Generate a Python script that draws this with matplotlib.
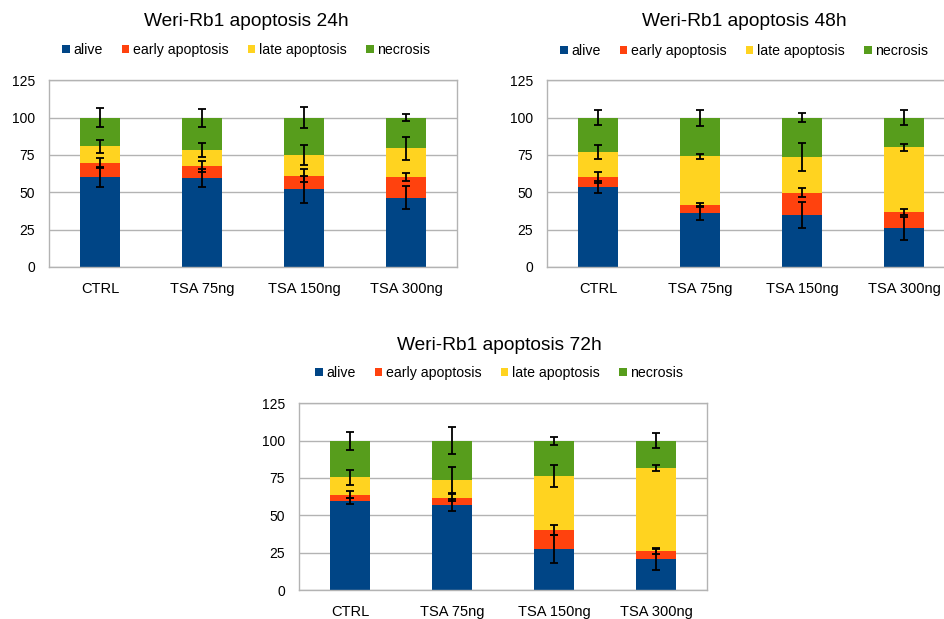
import numpy as np
import matplotlib
matplotlib.use("Agg")
import matplotlib.pyplot as plt
from matplotlib.patches import Patch

plt.rcParams['font.family'] = ['Liberation Sans', 'DejaVu Sans']

groups = ['CTRL', 'TSA 75ng', 'TSA 150ng', 'TSA 300ng']
series = ['alive', 'early apoptosis', 'late apoptosis', 'necrosis']
colors = ['#004586', '#ff420e', '#ffd320', '#579d1c']

# percentages per group (alive, early, late, necrosis) and SD of each
alive_24 = [60.3, 59.4, 52.0, 46.4]
early_24 = [9.3, 8.0, 9.2, 13.9]
late_24 = [11.2, 10.9, 13.8, 19.2]
necro_24 = [19.2, 21.7, 25.0, 20.5]
err_alive_24 = [6.5, 6.0, 9.2, 7.5]
err_early_24 = [3.6, 3.7, 4.5, 2.6]
err_late_24 = [4.5, 4.4, 7.0, 7.7]
err_necro_24 = [6.5, 6.0, 7.0, 2.4]

alive_48 = [53.6, 36.2, 34.8, 25.9]
early_48 = [6.4, 5.5, 15.0, 11.1]
late_48 = [17.0, 32.4, 23.6, 43.1]
necro_48 = [23.0, 25.9, 26.6, 19.9]
err_alive_48 = [4.3, 4.7, 8.8, 7.5]
err_early_48 = [3.5, 1.3, 2.8, 2.0]
err_late_48 = [5.0, 1.5, 9.3, 2.5]
err_necro_48 = [5.2, 5.3, 2.8, 5.0]

alive_72 = [59.6, 56.9, 27.5, 20.8]
early_72 = [4.2, 4.9, 12.7, 5.1]
late_72 = [11.6, 12.1, 36.1, 55.8]
necro_72 = [24.6, 26.1, 23.7, 18.3]
err_alive_72 = [1.7, 4.2, 9.2, 7.3]
err_early_72 = [2.5, 2.5, 3.1, 1.5]
err_late_72 = [5.1, 8.7, 7.5, 2.2]
err_necro_72 = [6.0, 8.8, 2.7, 4.9]


def stacked_panel(ax, parts, errs):
    x = np.arange(len(groups))
    bottom = np.zeros(len(groups))
    for vals, col, lab in zip(parts, colors, series):
        ax.bar(x, vals, 0.4, bottom=bottom, color=col, label=lab, zorder=2)
        bottom = bottom + np.array(vals)
    # error bars sit on top of each stacked segment
    top = np.zeros(len(groups))
    for vals, e in zip(parts, errs):
        top = top + np.array(vals)
        ax.errorbar(x, top, yerr=e, fmt='none', ecolor='black',
                    elinewidth=1.3, capsize=2.8, capthick=1.3, zorder=3)
    ax.set_xlim(-0.5, len(groups) - 0.5)
    ax.set_ylim(0, 125)
    ax.set_yticks(range(0, 126, 25))
    ax.set_xticks(x)
    ax.set_xticklabels(groups)
    ax.yaxis.grid(True, color='#b3b3b3', linewidth=1.0, zorder=0)
    ax.set_axisbelow(True)
    for s in ax.spines.values():
        s.set_color('#b3b3b3')
        s.set_linewidth(1.0)
    ax.tick_params(axis='both', length=0, labelsize=10, colors='#000000')
    ax.tick_params(axis='x', pad=11, labelsize=10.5)
    ax.tick_params(axis='y', pad=10)


def header(fig, xc, y_title, y_leg, title):
    fig.text(xc, y_title, title, ha='center', va='center', fontsize=13.8)
    handles = [Patch(facecolor=c, edgecolor='none') for c in colors]
    fig.legend(handles, series, loc='center', bbox_to_anchor=(xc, y_leg),
               ncol=4, frameon=False, fontsize=10.2, handlelength=0.55,
               handleheight=0.55, handletextpad=0.25, columnspacing=1.35,
               borderpad=0)


W, H = 945, 619
fig = plt.figure(figsize=(W / 100, H / 100), dpi=100)

ax1 = fig.add_axes([49 / W, 1 - 267 / H, 408 / W, 186.7 / H])
ax2 = fig.add_axes([547 / W, 1 - 267 / H, 408 / W, 186.7 / H])
ax3 = fig.add_axes([299 / W, 1 - 590 / H, 408 / W, 186.7 / H])

stacked_panel(ax1, [alive_24, early_24, late_24, necro_24],
              [err_alive_24, err_early_24, err_late_24, err_necro_24])
stacked_panel(ax2, [alive_48, early_48, late_48, necro_48],
              [err_alive_48, err_early_48, err_late_48, err_necro_48])
stacked_panel(ax3, [alive_72, early_72, late_72, necro_72],
              [err_alive_72, err_early_72, err_late_72, err_necro_72])

header(fig, 246 / W, 1 - 21 / H, 1 - 50 / H, 'Weri-Rb1 apoptosis 24h')
header(fig, 744 / W, 1 - 21 / H, 1 - 51 / H, 'Weri-Rb1 apoptosis 48h')
header(fig, 499 / W, 1 - 345 / H, 1 - 373 / H, 'Weri-Rb1 apoptosis 72h')

fig.savefig('out.png', dpi=100)
